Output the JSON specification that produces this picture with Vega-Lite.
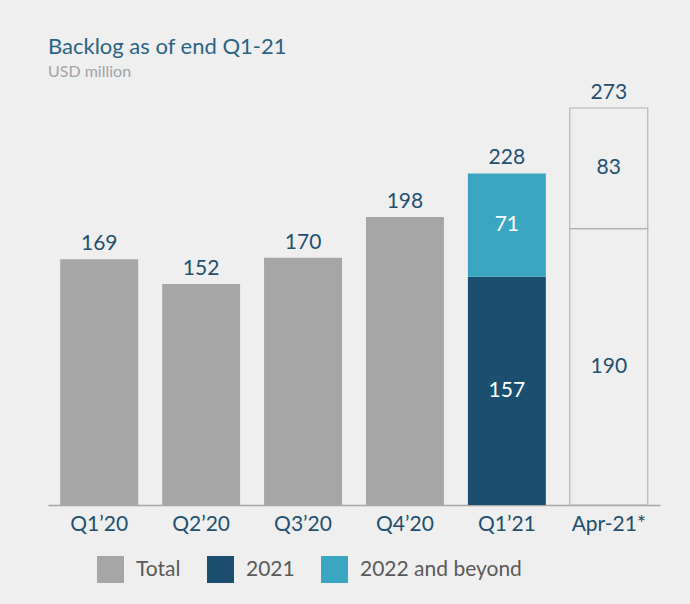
{
  "$schema": "https://vega.github.io/schema/vega-lite/v6.json",
  "width": 612,
  "height": 397,
  "autosize": {"type": "none"},
  "padding": {"left": 48, "top": 108, "right": 30, "bottom": 99},
  "background": "#efefef",
  "config": {
    "font": "Lato",
    "view": {"stroke": null},
    "text": {"font": "Lato"}
  },
  "title": {
    "text": "Backlog as of end Q1-21",
    "subtitle": "USD million",
    "anchor": "start",
    "frame": "group",
    "dx": 0,
    "offset": 1,
    "font": "Lato",
    "fontSize": 22,
    "fontWeight": "normal",
    "color": "#2a6485",
    "subtitleFont": "Lato",
    "subtitleFontSize": 16,
    "subtitleFontWeight": "normal",
    "subtitleColor": "#a3a3a3",
    "subtitlePadding": 5
  },
  "data": {
    "values": [
      {"period": "Q1’20", "series": "Total", "status": "actual", "order": 1, "value": 169},
      {"period": "Q2’20", "series": "Total", "status": "actual", "order": 1, "value": 152},
      {"period": "Q3’20", "series": "Total", "status": "actual", "order": 1, "value": 170},
      {"period": "Q4’20", "series": "Total", "status": "actual", "order": 1, "value": 198},
      {"period": "Q1’21", "series": "2021", "status": "actual", "order": 1, "value": 157},
      {"period": "Q1’21", "series": "2022 and beyond", "status": "actual", "order": 2, "value": 71},
      {"period": "Apr-21*", "series": "2021", "status": "preliminary", "order": 1, "value": 190},
      {"period": "Apr-21*", "series": "2022 and beyond", "status": "preliminary", "order": 2, "value": 83}
    ]
  },
  "transform": [
    {"stack": "value", "groupby": ["period"], "sort": [{"field": "order", "order": "ascending"}], "as": ["v0", "v1"]}
  ],
  "encoding": {
    "x": {
      "field": "period",
      "type": "nominal",
      "sort": null,
      "scale": {"paddingInner": 0.235, "paddingOuter": 0.12},
      "axis": {
        "title": null,
        "labelAngle": 0,
        "labelFontSize": 21,
        "labelColor": "#234f6e",
        "labelPadding": 8,
        "ticks": false,
        "domainColor": "#a6a6a6",
        "domainWidth": 1.5
      }
    }
  },
  "layer": [
    {
      "transform": [{"filter": "datum.status == 'actual'"}],
      "mark": {"type": "bar", "cornerRadius": 0},
      "encoding": {
        "y": {"field": "v0", "type": "quantitative", "scale": {"domain": [0, 273], "nice": false, "zero": true}, "axis": null},
        "y2": {"field": "v1"},
        "color": {
          "field": "series",
          "type": "nominal",
          "scale": {"domain": ["Total", "2021", "2022 and beyond"], "range": ["#a6a6a6", "#1c4f6f", "#3aa6c1"]},
          "legend": {
            "title": null,
            "orient": "none",
            "legendX": 49,
            "legendY": 448,
            "direction": "horizontal",
            "symbolType": "square",
            "symbolSize": 729,
            "symbolStrokeWidth": 0,
            "symbolOpacity": 1,
            "labelFontSize": 21,
            "labelColor": "#5a5a5a",
            "labelFont": "Lato",
            "labelOffset": 12,
            "labelLimit": 400,
            "columnPadding": 26
          }
        }
      }
    },
    {
      "transform": [{"filter": "datum.status == 'preliminary'"}],
      "mark": {"type": "bar", "fill": "transparent", "stroke": "#b3b3b3", "strokeWidth": 1.2},
      "encoding": {
        "y": {"field": "v0", "type": "quantitative"},
        "y2": {"field": "v1"}
      }
    },
    {
      "mark": {"type": "text", "baseline": "bottom", "dy": -5, "fontSize": 21, "color": "#234f6e"},
      "encoding": {
        "y": {"aggregate": "sum", "field": "value", "type": "quantitative"},
        "text": {"aggregate": "sum", "field": "value", "type": "quantitative"}
      }
    },
    {
      "transform": [
        {"filter": "datum.series != 'Total'"},
        {"calculate": "(datum.v0 + datum.v1) / 2", "as": "mid"}
      ],
      "mark": {"type": "text", "baseline": "middle", "fontSize": 21},
      "encoding": {
        "y": {"field": "mid", "type": "quantitative"},
        "text": {"field": "value", "type": "quantitative"},
        "color": {
          "condition": {"test": "datum.status == 'actual'", "value": "#ffffff"},
          "value": "#234f6e"
        }
      }
    }
  ]
}
